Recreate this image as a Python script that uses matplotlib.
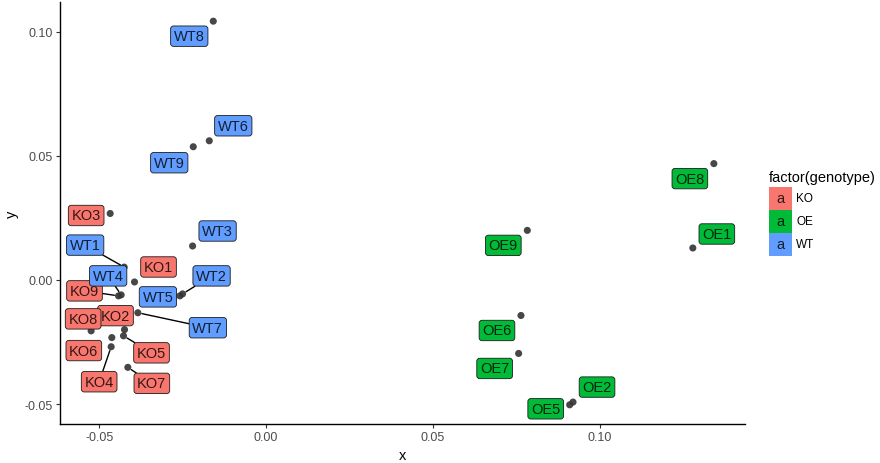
import numpy as np
import matplotlib.pyplot as plt
from matplotlib.patches import Rectangle
from matplotlib.colors import to_rgb

plt.rcParams['font.family'] = ['Liberation Sans', 'DejaVu Sans']

samples = ['KO1', 'KO2', 'KO3', 'KO4', 'KO5', 'KO6', 'KO7', 'KO8', 'KO9',
           'WT1', 'WT2', 'WT3', 'WT4', 'WT5', 'WT6', 'WT7', 'WT8', 'WT9',
           'OE1', 'OE2', 'OE5', 'OE6', 'OE7', 'OE8', 'OE9']
genotype = [s[:2] for s in samples]
x = [-0.0394, -0.0424, -0.0467, -0.0464, -0.0427, -0.0462, -0.0414, -0.0524, -0.0442,
     -0.0425, -0.0250, -0.0220, -0.0434, -0.0258, -0.0170, -0.0384, -0.0158, -0.0218,
     0.1279, 0.0920, 0.0910, 0.0764, 0.0757, 0.1342, 0.0783]
y = [-0.0008, -0.0200, 0.0268, -0.0269, -0.0225, -0.0232, -0.0352, -0.0205, -0.0064,
     0.0052, -0.0056, 0.0137, -0.0060, -0.0064, 0.0561, -0.0132, 0.1043, 0.0537,
     0.0129, -0.0492, -0.0503, -0.0143, -0.0296, 0.0469, 0.0200]
levels = ['KO', 'OE', 'WT']
colors = {'KO': '#F8766D', 'OE': '#00BA38', 'WT': '#619CFF'}

# label placement (pixels from the point, right / down), as ggrepel put them
offsets = {
    'KO1': (24, -15), 'KO2': (-9, -14), 'KO3': (-24, 2), 'KO4': (-12, 35),
    'KO5': (28, 17), 'KO6': (-28, 13), 'KO7': (24, 16), 'KO8': (-8, -12),
    'KO9': (-34, -5), 'WT1': (-39, -22), 'WT2': (29, -18), 'WT3': (25, -15),
    'WT4': (-13, -19), 'WT5': (-22, 1), 'WT6': (24, -15), 'WT7': (70, 15),
    'WT8': (-24, 15), 'WT9': (-24, 16), 'OE1': (24, -14), 'OE2': (24, -15),
    'OE5': (-24, 4), 'OE6': (-24, 15), 'OE7': (-24, 15), 'OE8': (-24, 15),
    'OE9': (-24, 15)}
with_segment = ['KO4', 'KO5', 'KO7', 'KO9', 'WT1', 'WT2', 'WT4', 'WT7']


def dark(c):
    # label text looks like black laid over the fill at ~80%
    return tuple(np.array(to_rgb(c)) * 0.2)


fig = plt.figure(figsize=(8.8, 4.64), dpi=100)
ax = fig.add_axes([60 / 880, 1 - 425 / 464, 685 / 880, 422 / 464])

ax.scatter(x, y, s=26, color='#333333', edgecolor='none', alpha=0.9, zorder=2)

for i, s in enumerate(samples):
    dx, dy = offsets[s]
    arrow = None
    if s in with_segment:
        arrow = dict(arrowstyle='-', color='black', lw=1.0, shrinkA=0, shrinkB=3)
    fill = colors[genotype[i]]
    ax.annotate(s, (x[i], y[i]), xytext=(dx, -dy), textcoords='offset pixels',
                ha='center', va='center', fontsize=10.5, color=dark(fill),
                bbox=dict(boxstyle='round,pad=0.22,rounding_size=0.2',
                          fc=fill, ec='#1a1a1a', lw=0.6),
                arrowprops=arrow, zorder=3)

xr = max(x) - min(x)
yr = max(y) - min(y)
ax.set_xlim(min(x) - 0.05 * xr, max(x) + 0.05 * xr)
ax.set_ylim(min(y) - 0.05 * yr, max(y) + 0.05 * yr)
ax.set_xticks([-0.05, 0.0, 0.05, 0.10])
ax.set_xticklabels(['-0.05', '0.00', '0.05', '0.10'])
ax.set_yticks([-0.05, 0.0, 0.05, 0.10])
ax.set_yticklabels(['-0.05', '0.00', '0.05', '0.10'])
for side in ['top', 'right']:
    ax.spines[side].set_visible(False)
for side in ['left', 'bottom']:
    ax.spines[side].set_linewidth(1.0)
ax.tick_params(length=3, width=0.8, color='#333333', labelsize=9,
               labelcolor='#4D4D4D', pad=2)
ax.set_xlabel('x', fontsize=10.5, labelpad=4)
ax.set_ylabel('y', fontsize=10.5, labelpad=4)

# legend built like ggplot's label keys
fig.text(769 / 880, 1 - 178 / 464, 'factor(genotype)', fontsize=10.5,
         ha='left', va='center')
for k, g in enumerate(levels):
    top = 188 + k * 23
    fig.patches.append(Rectangle((769 / 880, 1 - (top + 23) / 464), 23 / 880, 23 / 464,
                                 transform=fig.transFigure, fc=colors[g], ec='none'))
    fig.text(780.5 / 880, 1 - (top + 11) / 464, 'a', fontsize=10.5, ha='center',
             va='center', color=dark(colors[g]))
    fig.text(796 / 880, 1 - (top + 11.5) / 464, g, fontsize=8.5, ha='left',
             va='center')

fig.savefig('out.png', dpi=100)
